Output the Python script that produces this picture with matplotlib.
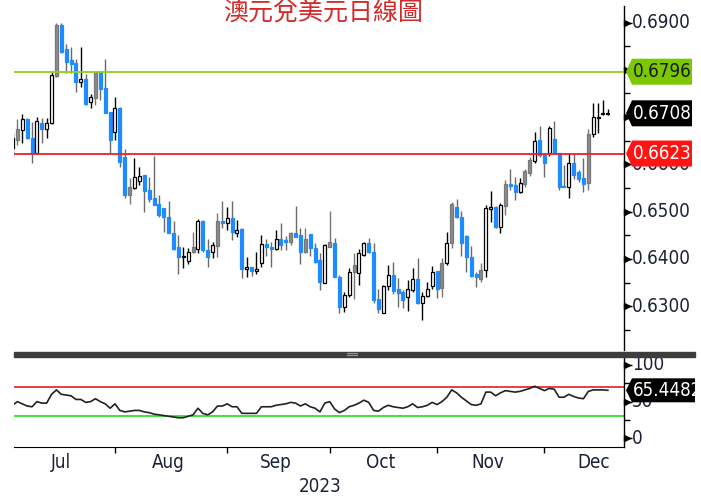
import matplotlib
matplotlib.use('Agg')
import matplotlib.pyplot as plt
import matplotlib.transforms as mtransforms
from matplotlib.patches import Rectangle, Polygon
from matplotlib import font_manager
import pandas as pd

# ---------------- data ----------------
start_date = '2023-07-03'
opens = [
    0.6635, 0.6652, 0.6673, 0.6696, 0.6656, 0.6624, 0.6688, 0.6675, 0.6688, 0.6787,
    0.6895, 0.6844, 0.6821, 0.6814, 0.6774, 0.6781, 0.6732, 0.6740, 0.6795, 0.6762,
    0.6711, 0.6668, 0.6719, 0.6616, 0.6535, 0.6550, 0.6565, 0.6578, 0.6546, 0.6529,
    0.6516, 0.6508, 0.6489, 0.6455, 0.6425, 0.6404, 0.6396, 0.6415, 0.6421, 0.6480,
    0.6419, 0.6415, 0.6427, 0.6480, 0.6476, 0.6487, 0.6455, 0.6463, 0.6379, 0.6383,
    0.6375, 0.6392, 0.6432, 0.6425, 0.6421, 0.6442, 0.6440, 0.6436, 0.6455, 0.6451,
    0.6415, 0.6453, 0.6423, 0.6398, 0.6349, 0.6425, 0.6434, 0.6362, 0.6298, 0.6324,
    0.6372, 0.6370, 0.6408, 0.6434, 0.6415, 0.6315, 0.6286, 0.6343, 0.6366, 0.6337,
    0.6330, 0.6320, 0.6334, 0.6358, 0.6307, 0.6322, 0.6343, 0.6375, 0.6339, 0.6392,
    0.6434, 0.6510, 0.6489, 0.6449, 0.6404, 0.6368, 0.6358, 0.6377, 0.6506, 0.6510,
    0.6468, 0.6512, 0.6559, 0.6556, 0.6542, 0.6559, 0.6582, 0.6607, 0.6652, 0.6620,
    0.6624, 0.6654, 0.6624, 0.6554, 0.6552, 0.6603, 0.6584, 0.6571, 0.6561, 0.6664,
    0.6698, 0.6707, 0.6707]
highs = [
    0.6666, 0.6696, 0.6707, 0.6698, 0.6690, 0.6700, 0.6698, 0.6698, 0.6795, 0.6899,
    0.6899, 0.6855, 0.6848, 0.6823, 0.6848, 0.6791, 0.6749, 0.6797, 0.6797, 0.6823,
    0.6711, 0.6742, 0.6721, 0.6632, 0.6571, 0.6613, 0.6594, 0.6578, 0.6573, 0.6618,
    0.6535, 0.6508, 0.6523, 0.6480, 0.6451, 0.6425, 0.6423, 0.6457, 0.6485, 0.6482,
    0.6442, 0.6436, 0.6497, 0.6523, 0.6510, 0.6523, 0.6482, 0.6466, 0.6404, 0.6383,
    0.6415, 0.6451, 0.6442, 0.6436, 0.6461, 0.6476, 0.6449, 0.6457, 0.6512, 0.6466,
    0.6466, 0.6453, 0.6434, 0.6413, 0.6432, 0.6502, 0.6444, 0.6366, 0.6330, 0.6381,
    0.6413, 0.6421, 0.6436, 0.6444, 0.6434, 0.6337, 0.6345, 0.6387, 0.6394, 0.6360,
    0.6334, 0.6356, 0.6381, 0.6402, 0.6330, 0.6351, 0.6385, 0.6375, 0.6402, 0.6457,
    0.6521, 0.6527, 0.6502, 0.6451, 0.6427, 0.6372, 0.6392, 0.6514, 0.6544, 0.6512,
    0.6518, 0.6567, 0.6590, 0.6573, 0.6571, 0.6590, 0.6616, 0.6668, 0.6681, 0.6624,
    0.6681, 0.6692, 0.6624, 0.6599, 0.6624, 0.6624, 0.6588, 0.6613, 0.6675, 0.6730,
    0.6730, 0.6736, 0.6717]
lows = [
    0.6616, 0.6641, 0.6645, 0.6654, 0.6603, 0.6622, 0.6645, 0.6656, 0.6685, 0.6785,
    0.6836, 0.6793, 0.6793, 0.6753, 0.6764, 0.6726, 0.6719, 0.6726, 0.6736, 0.6709,
    0.6624, 0.6652, 0.6595, 0.6529, 0.6516, 0.6548, 0.6556, 0.6499, 0.6521, 0.6514,
    0.6489, 0.6457, 0.6455, 0.6419, 0.6368, 0.6381, 0.6389, 0.6413, 0.6413, 0.6415,
    0.6383, 0.6402, 0.6404, 0.6466, 0.6461, 0.6440, 0.6447, 0.6360, 0.6362, 0.6364,
    0.6368, 0.6383, 0.6406, 0.6383, 0.6419, 0.6419, 0.6419, 0.6430, 0.6447, 0.6389,
    0.6413, 0.6406, 0.6392, 0.6334, 0.6349, 0.6425, 0.6362, 0.6286, 0.6288, 0.6320,
    0.6315, 0.6345, 0.6406, 0.6413, 0.6307, 0.6286, 0.6286, 0.6334, 0.6326, 0.6298,
    0.6296, 0.6290, 0.6330, 0.6305, 0.6271, 0.6320, 0.6337, 0.6318, 0.6320, 0.6387,
    0.6423, 0.6487, 0.6406, 0.6372, 0.6362, 0.6341, 0.6351, 0.6362, 0.6478, 0.6466,
    0.6455, 0.6493, 0.6546, 0.6525, 0.6540, 0.6552, 0.6576, 0.6603, 0.6616, 0.6573,
    0.6618, 0.6622, 0.6546, 0.6552, 0.6529, 0.6569, 0.6563, 0.6542, 0.6546, 0.6658,
    0.6666, 0.6705, 0.6705]
closes = [
    0.6656, 0.6675, 0.6696, 0.6656, 0.6624, 0.6692, 0.6675, 0.6688, 0.6789, 0.6895,
    0.6838, 0.6816, 0.6812, 0.6774, 0.6781, 0.6728, 0.6743, 0.6795, 0.6759, 0.6709,
    0.6652, 0.6719, 0.6605, 0.6535, 0.6552, 0.6573, 0.6575, 0.6544, 0.6527, 0.6514,
    0.6493, 0.6489, 0.6455, 0.6421, 0.6404, 0.6406, 0.6415, 0.6425, 0.6480, 0.6419,
    0.6404, 0.6430, 0.6480, 0.6476, 0.6487, 0.6457, 0.6461, 0.6379, 0.6383, 0.6375,
    0.6379, 0.6432, 0.6425, 0.6421, 0.6442, 0.6430, 0.6436, 0.6455, 0.6447, 0.6415,
    0.6442, 0.6423, 0.6394, 0.6351, 0.6430, 0.6436, 0.6362, 0.6298, 0.6324, 0.6372,
    0.6387, 0.6413, 0.6434, 0.6415, 0.6313, 0.6294, 0.6343, 0.6366, 0.6332, 0.6328,
    0.6313, 0.6337, 0.6358, 0.6307, 0.6322, 0.6337, 0.6372, 0.6337, 0.6392, 0.6434,
    0.6516, 0.6489, 0.6434, 0.6404, 0.6364, 0.6362, 0.6377, 0.6508, 0.6510, 0.6468,
    0.6514, 0.6559, 0.6554, 0.6542, 0.6561, 0.6586, 0.6609, 0.6650, 0.6620, 0.6603,
    0.6677, 0.6624, 0.6552, 0.6552, 0.6603, 0.6578, 0.6569, 0.6559, 0.6664, 0.6700,
    0.6700, 0.6709, 0.6708]
# bars shown as solid grey up-candles on the source chart
solid_up_bars = [1, 9, 17, 24, 37, 42, 57, 60, 65, 70, 88, 90, 96, 101, 105, 106, 118]

rsi = [
    45, 50, 47, 44, 43, 50, 48, 48, 60, 66,
    60, 59, 58, 53, 53, 49, 50, 54, 50, 47,
    41, 47, 38, 36, 37, 38, 38, 36, 35, 33,
    32, 31, 30, 29, 28, 28, 30, 32, 41, 34,
    32, 36, 44, 44, 47, 43, 43, 34, 34, 34,
    34, 43, 43, 43, 45, 46, 47, 49, 48, 44,
    47, 43, 41, 36, 48, 50, 40, 35, 38, 43,
    45, 48, 52, 49, 38, 37, 42, 45, 43, 42,
    41, 43, 47, 42, 43, 45, 49, 46, 50, 56,
    66, 62, 56, 51, 46, 45, 47, 63, 63, 58,
    62, 65, 64, 63, 64, 66, 68, 71, 68, 65,
    68, 67, 56, 56, 60, 57, 55, 54, 64, 66,
    66, 66, 65.4482]

resistance = 0.6796
support = 0.6623
last_price = 0.6708
rsi_high, rsi_low = 70, 30
price_ticks = [0.63, 0.64, 0.65, 0.66, 0.67, 0.68, 0.69]
price_labels = ['0.6300', '0.6400', '0.6500', '0.6600', '', '', '0.6900']
rsi_ticks = [0, 50, 100]
title_text = '澳元兌美元日線圖'

# ---------------- fonts ----------------
names = {f.name for f in font_manager.fontManager.ttflist}
if 'Liberation Sans Narrow' in names:
    NARROW = dict(family=['Liberation Sans Narrow', 'DejaVu Sans'])
else:
    NARROW = dict(family=['DejaVu Sans'], stretch='condensed')
NAVY = '#1b2238'

W, H = 701, 497
fig = plt.figure(figsize=(W / 100, H / 100), dpi=100)
fig.patch.set_facecolor('white')

def fx(px):
    return px / W

def fy(py):
    return 1 - py / H

L, R = 14, 624
ax = fig.add_axes([fx(L), fy(350), fx(R - L), (350 - 6) / H])
ax2 = fig.add_axes([fx(L), fy(447), fx(R - L), (447 - 357) / H])

dates = pd.bdate_range(start_date, periods=len(closes))
n = len(closes)
xs = list(range(n))

BLUE = '#1e8cff'
GREY = '#8c8c8c'
bw = 0.62
for i in xs:
    o, h, l, c = opens[i], highs[i], lows[i], closes[i]
    if c < o:
        face, edge, wick = BLUE, BLUE, '#6a6a6a'
    elif i in solid_up_bars:
        face, edge, wick = GREY, '#777777', '#777777'
    else:
        face, edge, wick = 'white', 'black', 'black'
    ax.vlines(i, l, h, color=wick, lw=1.0, zorder=2)
    bot = min(o, c)
    hgt = max(abs(c - o), 0.00008)
    ax.add_patch(Rectangle((i - bw / 2, bot), bw, hgt, facecolor=face,
                           edgecolor=edge, lw=0.9, zorder=3))

ax.axhline(resistance, color='#8fd11a', lw=1.3, zorder=4)
ax.axhline(support, color='#ee2028', lw=1.3, zorder=4)

x_left = (L - 12.5) / 4.88
x_right = (R - 12.5) / 4.88
ax.set_xlim(x_left, x_right)
ax.set_ylim(0.62076, 0.69349)
for a in (ax, ax2):
    for s in ('top', 'left', 'bottom'):
        a.spines[s].set_visible(False)
    a.spines['right'].set_color('black')
    a.spines['right'].set_linewidth(1.0)
    a.set_xticks([])
    a.yaxis.tick_right()
    a.tick_params(axis='y', which='major', length=6, width=1, color='black',
                  labelright=False)
    a.tick_params(axis='y', which='minor', length=4, width=1, color='black')
    a.set_facecolor('none')

ax.set_yticks(price_ticks)
ax.set_yticks([t + 0.005 for t in price_ticks[:-1]] + [0.625], minor=True)

ytrans = ax.get_yaxis_transform()
lab_tr = mtransforms.offset_copy(ytrans, fig=fig, x=8, y=0, units='dots')
tri_tr = mtransforms.offset_copy(ytrans, fig=fig, x=3, y=0, units='dots')
for t, lab in zip(price_ticks, price_labels):
    if lab:
        ax.text(1.0, t, lab, transform=lab_tr, ha='left', va='center',
                fontsize=13.5, color=NAVY, clip_on=False, **NARROW)
    ax.plot([1.0], [t], marker='>', ms=4, color='black', transform=tri_tr,
            clip_on=False)

# ---------------- RSI panel ----------------
ax2.plot(xs, rsi, color='#222222', lw=1.2, zorder=3)
ax2.axhline(rsi_high, color='#e02020', lw=1.2, zorder=2)
ax2.axhline(rsi_low, color='#3ee23e', lw=1.4, zorder=2)
ax2.set_xlim(x_left, x_right)
ax2.set_ylim(-11.9, 110.9)
ax2.spines['bottom'].set_visible(True)
ax2.spines['bottom'].set_color('black')
ax2.set_yticks(rsi_ticks)
ax2.set_yticks([25, 75], minor=True)
ytrans2 = ax2.get_yaxis_transform()
lab_tr2 = mtransforms.offset_copy(ytrans2, fig=fig, x=8, y=0, units='dots')
tri_tr2 = mtransforms.offset_copy(ytrans2, fig=fig, x=3, y=0, units='dots')
for t in rsi_ticks:
    ax2.text(1.0, t, f'{t}', transform=lab_tr2, ha='left', va='center',
             fontsize=13.5, color=NAVY, clip_on=False, **NARROW)
    ax2.plot([1.0], [t], marker='>', ms=4, color='black', transform=tri_tr2,
             clip_on=False)

# month ticks and labels
month_starts = []
for k in range(1, n):
    if dates[k].month != dates[k - 1].month:
        month_starts.append(k)
ax2.set_xticks(month_starts)
ax2.tick_params(axis='x', which='major', length=4, width=1, color='black',
                labelbottom=False, direction='out')
months = sorted(set((d.year, d.month) for d in dates))
lab_x_tr = mtransforms.offset_copy(ax2.get_xaxis_transform(), fig=fig, x=0, y=-16,
                                   units='dots')
for (yy, mm) in months:
    first = pd.Timestamp(yy, mm, 1)
    full = pd.bdate_range(first, first + pd.offsets.MonthEnd(0))
    if full[0] >= dates[0]:
        idx0 = len(pd.bdate_range(dates[0], full[0])) - 1
    else:
        idx0 = -len(pd.bdate_range(full[0], dates[0])) + 1
    idx1 = idx0 + len(full) - 1
    centre = (idx0 + idx1) / 2
    ax2.text(centre, 0, full[0].strftime('%b'), transform=lab_x_tr,
             ha='center', va='center', fontsize=13.5, color=NAVY, **NARROW)
fig.text(fx(320), fy(486), '2023', ha='center', va='center', fontsize=13.5,
         color=NAVY, **NARROW)

# separator bar
fig.patches.append(Rectangle((fx(14), fy(356.5)), fx(695 - 14), 5 / H,
                             transform=fig.transFigure, color='#3d3d3d', zorder=5))
for dy in (-1, 1):
    fig.lines.append(plt.Line2D([fx(347), fx(357)], [fy(354 + dy), fy(354 + dy)],
                                transform=fig.transFigure, color='#9a9a9a', lw=0.8,
                                zorder=6))

# value tags
fig.canvas.draw()

def tag(axis, value, text, bg, fg, h=26, right=692):
    y = axis.transData.transform((0, value))[1]
    yf = y / H
    x0 = R + 2
    pts = [(fx(x0), yf), (fx(x0 + 6), yf + h / 2 / H), (fx(right), yf + h / 2 / H),
           (fx(right), yf - h / 2 / H), (fx(x0 + 6), yf - h / 2 / H)]
    fig.patches.append(Polygon(pts, closed=True, transform=fig.transFigure,
                               facecolor=bg, edgecolor='none', zorder=5))
    fig.text(fx(x0 + 7), yf, text, ha='left', va='center', fontsize=13.5,
             color=fg, zorder=6, **NARROW)

tag(ax, resistance, f'{resistance:.4f}', '#7cc800', '#1a1a1a')
tag(ax, last_price, f'{last_price:.4f}', 'black', 'white')
tag(ax, support, f'{support:.4f}', '#ff1414', 'white')
tag(ax2, rsi[-1], f'{rsi[-1]:.4f}', 'black', 'white', h=24, right=695)

fig.text(fx(323), fy(12.5), title_text, ha='center', va='center', fontsize=18,
         color='#d42a2a', family=['Noto Sans CJK TC', 'DejaVu Sans'])

fig.savefig('out.png', dpi=100)
